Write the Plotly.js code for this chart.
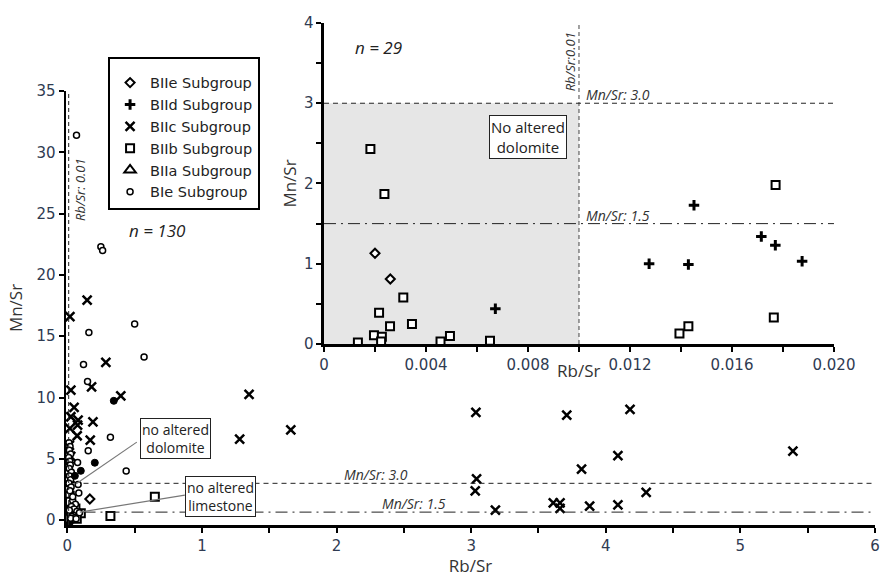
<!DOCTYPE html>
<html>
<head>
<meta charset="utf-8">
<script src="https://cdn.plot.ly/plotly-3.0.1.min.js"></script>
<style>html,body{margin:0;padding:0;background:#fff;}#chart{width:880px;height:579px;}</style>
</head>
<body>
<div id="chart"></div>
<script>
// ---------- DATA ----------
// Samples with very low Rb/Sr (also shown enlarged in the inset)
const biibLowX = [0.00182,0.00237,0.00311,0.00216,0.00259,0.00345,0.00196,0.00227,0.00224,0.00133,0.00457,0.00494,0.00651,0.01771,0.01764,0.01429,0.01394];
const biibLowY = [2.43,1.87,0.58,0.39,0.22,0.25,0.11,0.09,0.03,0.02,0.03,0.10,0.04,1.98,0.33,0.22,0.13];
const biieLowX = [0.0020,0.0026];
const biieLowY = [1.13,0.81];
const biidLowX = [0.00672,0.01451,0.01715,0.0177,0.01875,0.01275,0.01429];
const biidLowY = [0.44,1.73,1.34,1.23,1.03,1.00,0.99];

// Remaining samples (main plot only)
const biieX = [0.167,0.03,0.05];
const biieY = [1.72,0.6,1.2];
const biidX = [0.04,0.06];
const biidY = [0.35,0.85];
const biicX = [0.147,0.019,0.286,0.18,0.397,0.026,0.05,0.026,0.08,0.076,0.019,0.073,0.19,0.17,
               1.35,1.28,1.66,3.035,3.71,4.18,5.39,4.09,3.82,3.04,3.03,4.30,3.18,3.61,3.66,3.66,3.88,4.09,
               0.015,0.025,0.012,0.02];
const biicY = [17.95,16.6,12.87,10.87,10.14,10.6,9.2,8.43,8.16,7.75,7.48,6.88,8.02,6.53,
               10.25,6.6,7.35,8.79,8.57,9.03,5.63,5.25,4.16,3.37,2.39,2.26,0.82,1.41,1.41,0.95,1.14,1.25,
               6.1,5.2,4.4,3.4];
const biibX = [0.10,0.32,0.65,0.03,0.05,0.07,0.04,0.06,0.02];
const biibY = [0.55,0.33,1.9,0.2,0.4,0.1,0.7,0.95,1.5];
const biiaX = [null];
const biiaY = [null];
const bieX = [0.068,0.249,0.262,0.16,0.50,0.57,0.12,0.15,0.32,0.155,0.076,0.437,0.08,0.085,
              0.012,0.02,0.015,0.025,0.01,0.018,0.022,0.014,0.03,0.016,0.024,0.012,0.028,0.019,
              0.04,0.06,0.03,0.05,0.07,0.02,0.045,0.035,0.055,0.025,0.065,0.09,0.015,0.04];
const bieY = [31.4,22.3,22.0,15.3,16.0,13.3,12.7,11.3,6.75,5.65,4.7,4.0,2.9,2.2,
              6.3,6.0,5.7,5.4,5.1,4.8,4.5,4.2,3.9,3.6,3.3,3.0,2.7,2.4,
              1.6,1.3,1.1,0.9,0.7,0.5,0.4,0.3,0.2,0.15,0.1,0.6,0.8,1.9];
const bieFilledX = [0.345,0.204,0.10,0.056];
const bieFilledY = [9.73,4.68,4.02,3.61];

// Tick labels
const mainXTickVals = [0,0.5,1,1.5,2,2.5,3,3.5,4,4.5,5,5.5,6];
const mainXTickText = ['0','','1','','2','','3','','4','','5','','6'];
const insetXTickVals = [0,0.002,0.004,0.006,0.008,0.010,0.012,0.014,0.016,0.018,0.020];
const insetXTickText = ['0','','0.004','','0.008','','0.012','','0.016','','0.020'];
const insetYTickVals = [0,0.5,1,1.5,2,2.5,3,3.5,4];
const insetYTickText = ['0','','1','','2','','3','','4'];

// Threshold lines
const rbSrLimit = 0.01;
const mnSrHigh = 3.0;
const mnSrLow = 1.5;
const mainLowLineY = 0.65; // where the 1.5 line is drawn in the main panel

// ---------- STYLE ----------
const TXT = '"Open Sans", "Noto Sans", sans-serif';
const TICKF = '"DejaVu Sans", sans-serif';
const TICKC = '#2f3b52';

const mk = {
  biie: {symbol:'diamond', size:7, color:'white', line:{color:'black', width:2}},
  biid: {symbol:'cross-thin', size:7.5, color:'black', line:{color:'black', width:3}},
  biic: {symbol:'x-thin', size:9, color:'black', line:{color:'black', width:2.5}},
  biib: {symbol:'square', size:8, color:'white', line:{color:'black', width:2}},
  biia: {symbol:'triangle-up', size:10, color:'white', line:{color:'black', width:2}},
  bie:  {symbol:'circle', size:6, color:'white', line:{color:'black', width:1.5}},
  bief: {symbol:'circle', size:7, color:'black', line:{color:'black', width:1}}
};

function tr(name, x, y, marker, opts) {
  return Object.assign({type:'scatter', mode:'markers', name:name, x:x, y:y, marker:marker,
    hoverinfo:'skip', cliponaxis:true}, opts||{});
}

const traces = [
  tr('BIIe Subgroup', biieLowX.concat(biieX), biieLowY.concat(biieY), mk.biie),
  tr('BIId Subgroup', biidLowX.concat(biidX), biidLowY.concat(biidY), mk.biid),
  tr('BIIc Subgroup', biicX, biicY, mk.biic),
  tr('BIIb Subgroup', biibLowX.concat(biibX), biibLowY.concat(biibY), mk.biib),
  tr('BIIa Subgroup', biiaX, biiaY, mk.biia),
  tr('BIe Subgroup', bieX, bieY, mk.bie),
  tr('BIe filled', bieFilledX, bieFilledY, mk.bief, {showlegend:false}),
  // inset
  tr('BIIb inset', biibLowX, biibLowY, mk.biib, {xaxis:'x2', yaxis:'y2', showlegend:false}),
  tr('BIIe inset', biieLowX, biieLowY, mk.biie, {xaxis:'x2', yaxis:'y2', showlegend:false}),
  tr('BIId inset', biidLowX, biidLowY, mk.biid, {xaxis:'x2', yaxis:'y2', showlegend:false})
];

const axBase = {showgrid:false, zeroline:false, showline:true, linecolor:'black', linewidth:2.5,
  ticks:'outside', ticklen:5, tickwidth:2, tickcolor:'black',
  tickfont:{family:TICKF, size:15, color:TICKC}};

const dashShort = '5px,4px';
const dashDot = '12px,5px,2px,5px';

const shapes = [
  // main panel
  {type:'line', xref:'x', yref:'y', x0:rbSrLimit, x1:rbSrLimit, y0:-0.4, y1:35, line:{color:'#222', width:1, dash:'4px,3px'}},
  {type:'line', xref:'x', yref:'y', x0:0.12, x1:6, y0:mnSrHigh, y1:mnSrHigh, line:{color:'#222', width:1, dash:dashShort}},
  {type:'line', xref:'x', yref:'y', x0:0.12, x1:6, y0:mainLowLineY, y1:mainLowLineY, line:{color:'#222', width:1, dash:dashDot}},
  {type:'line', xref:'x', yref:'y', x0:0.516, y0:6.36, x1:0.063, y1:2.94, line:{color:'#777', width:1.2}},
  {type:'line', xref:'x', yref:'y', x0:0.873, y0:2.04, x1:0.093, y1:0.65, line:{color:'#777', width:1.2}},
  // inset
  {type:'rect', xref:'x2', yref:'y2', x0:0, x1:rbSrLimit, y0:0, y1:mnSrHigh, fillcolor:'#e6e6e6', line:{width:0}, layer:'below'},
  {type:'line', xref:'x2', yref:'y2', x0:rbSrLimit, x1:rbSrLimit, y0:0, y1:4, line:{color:'#444', width:1, dash:'4px,3px'}},
  {type:'line', xref:'x2', yref:'y2', x0:0, x1:0.02, y0:mnSrHigh, y1:mnSrHigh, line:{color:'#222', width:1, dash:dashShort}},
  {type:'line', xref:'x2', yref:'y2', x0:0, x1:0.02, y0:mnSrLow, y1:mnSrLow, line:{color:'#222', width:1, dash:dashDot}}
];

const itf = {family:TXT, size:14, color:'#333', style:'italic'};
const annotations = [
  {xref:'x', yref:'y', x:0.093, y:27, text:'Rb/Sr: 0.01', textangle:-90, showarrow:false, font:{family:TXT, size:13, color:'#333', style:'italic'}},
  {xref:'x', yref:'y', x:0.67, y:23.6, text:'n = 130', showarrow:false, font:{family:TXT, size:17, color:'#222', style:'italic'}},
  {xref:'x', yref:'y', x:2.04, y:mnSrHigh, xanchor:'left', yanchor:'bottom', yshift:-3, text:'Mn/Sr: 3.0', showarrow:false, font:itf},
  {xref:'x', yref:'y', x:2.32, y:mainLowLineY, xanchor:'left', yanchor:'bottom', yshift:-3, text:'Mn/Sr: 1.5', showarrow:false, font:itf},
  {xref:'x', yref:'y', x:0.80, y:6.65, text:'no altered<br>dolomite', showarrow:false, bgcolor:'white', bordercolor:'#222', borderwidth:1, borderpad:1, font:{family:TXT, size:14, color:'#222'}},
  {xref:'x', yref:'y', x:1.14, y:1.92, text:'no altered<br>limestone', showarrow:false, bgcolor:'white', bordercolor:'#222', borderwidth:1, borderpad:1, font:{family:TXT, size:14, color:'#222'}},
  // inset
  {xref:'x2', yref:'y2', x:0.00965, y:3.51, text:'Rb/Sr:0.01', textangle:-90, showarrow:false, font:{family:TXT, size:13, color:'#333', style:'italic'}},
  {xref:'x2', yref:'y2', x:0.00212, y:3.69, text:'n = 29', showarrow:false, font:{family:TXT, size:17, color:'#222', style:'italic'}},
  {xref:'x2', yref:'y2', x:0.0102, y:mnSrHigh, xanchor:'left', yanchor:'bottom', yshift:-3, text:'Mn/Sr: 3.0', showarrow:false, font:itf},
  {xref:'x2', yref:'y2', x:0.0102, y:mnSrLow, xanchor:'left', yanchor:'bottom', yshift:-3, text:'Mn/Sr: 1.5', showarrow:false, font:itf},
  {xref:'x2', yref:'y2', x:0.0080, y:2.58, text:'No altered<br>dolomite', showarrow:false, bgcolor:'white', bordercolor:'#222', borderwidth:1, borderpad:1, font:{family:TXT, size:15, color:'#222'}},
  {xref:'x2 domain', yref:'y2 domain', x:0.5, y:0, yshift:-26, yanchor:'middle', text:'Rb/Sr', showarrow:false, font:{family:TXT, size:17, color:'#333'}}
];

const layout = {
  width:880, height:579,
  margin:{l:66, r:5, t:20, b:54},
  paper_bgcolor:'white', plot_bgcolor:'white',
  showlegend:true,
  legend:{x:0.052, y:0.927, xanchor:'left', yanchor:'top', bgcolor:'white', bordercolor:'black', borderwidth:2,
    font:{family:TICKF, size:14.5, color:'#222'}, traceorder:'normal', itemwidth:30,
    title:{text:' ', font:{size:6}}},
  xaxis:Object.assign({}, axBase, {domain:[0,1], range:[-0.01,6], tickmode:'array', tickvals:mainXTickVals, ticktext:mainXTickText,
    title:{text:'Rb/Sr', font:{family:TXT, size:17, color:'#333'}, standoff:6}}),
  yaxis:Object.assign({}, axBase, {domain:[0,0.8594], range:[-0.4,35], dtick:5, tick0:0,
    title:{text:'Mn/Sr', font:{family:TXT, size:17, color:'#333'}, standoff:10}}),
  xaxis2:Object.assign({}, axBase, {domain:[0.3189,0.9493], range:[0,0.02], anchor:'y2', tickmode:'array', tickvals:insetXTickVals, ticktext:insetXTickText}),
  yaxis2:Object.assign({}, axBase, {domain:[0.3584,0.9941], range:[0,4], anchor:'x2', tickmode:'array', tickvals:insetYTickVals, ticktext:insetYTickText,
    title:{text:'Mn/Sr', font:{family:TXT, size:17, color:'#333'}, standoff:3}}),
  shapes:shapes,
  annotations:annotations
};

Plotly.newPlot('chart', traces, layout, {staticPlot:true, displayModeBar:false});
</script>
</body>
</html>
